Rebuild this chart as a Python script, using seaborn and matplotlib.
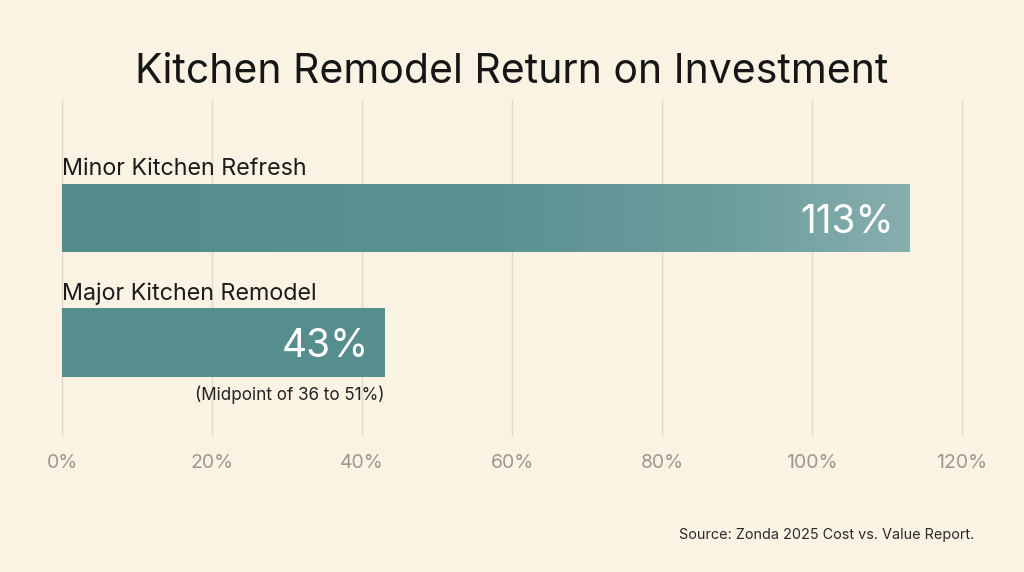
import numpy as np
import matplotlib
matplotlib.use("Agg")
import matplotlib.pyplot as plt
from matplotlib.colors import LinearSegmentedColormap
import seaborn as sns

# DATA
categories = ["Minor Kitchen Refresh", "Major Kitchen Remodel"]
roi_values = [113, 43]
value_labels = ["113%", "43%"]
x_ticks = [0, 20, 40, 60, 80, 100, 120]
x_tick_labels = ["0%", "20%", "40%", "60%", "80%", "100%", "120%"]
note_text = "(Midpoint of 36 to 51%)"
title_text = "Kitchen Remodel Return on Investment"
source_text = "Source: Zonda 2025 Cost vs. Value Report."

BG = "#FAF3E4"
TEAL = "#568D8D"

sns.set_theme(style="white")
plt.rcParams["font.family"] = ["Inter", "DejaVu Sans"]

fig = plt.figure(figsize=(10.24, 5.72), dpi=100, facecolor=BG)
ax = fig.add_axes([62 / 1024, 1 - 435 / 572, 900 / 1024, 335 / 572])
ax.set_facecolor(BG)

sns.barplot(x=roi_values, y=categories, orient="h", color=TEAL,
            saturation=1, width=0.55, linewidth=0, ax=ax, zorder=2)

# gridlines (not clipped so the 120% line at the edge shows fully)
for t in x_ticks:
    ax.axvline(t, color="#E0D9CD", lw=1.0, zorder=0, clip_on=False)

ax.set_xticks(x_ticks)
ax.set_xticklabels(x_tick_labels, color="#9E998F", fontsize=14)
ax.tick_params(axis="x", length=0, pad=14)
ax.set_yticks([])
ax.set_xlabel("")
ax.set_ylabel("")
for s in ax.spines.values():
    s.set_visible(False)

# soft gradient on the first bar
cmap = LinearSegmentedColormap.from_list(
    "tealgrad", [(0, "#558B8B"), (0.5, "#5A9191"), (0.8, "#6E9E9E"), (1, "#88AEAE")])
p0 = ax.patches[0]
x0, y0 = p0.get_x(), p0.get_y()
w0, h0 = p0.get_width(), p0.get_height()
grad = np.linspace(0, 1, 256).reshape(1, -1)
im = ax.imshow(grad, cmap=cmap, aspect="auto", interpolation="bilinear",
               extent=[x0, x0 + w0, y0 + h0, y0], zorder=2.5)
im.set_clip_path(p0)
ax.set_xlim(0, 120)
ax.set_ylim(1.743, -0.948)

for i, p in enumerate(ax.patches[:len(categories)]):
    top = p.get_y()
    mid = p.get_y() + p.get_height() / 2
    ax.annotate(categories[i], (0, top), xytext=(0, 6), textcoords="offset points",
                ha="left", va="baseline", fontsize=16.8, color="#1C1C1C")
    ax.annotate(value_labels[i], (p.get_width(), mid), xytext=(-11, 0),
                textcoords="offset points", ha="right", va="center_baseline",
                fontsize=28, color="white", zorder=3)

p1 = ax.patches[1]
ax.annotate(note_text, (p1.get_width(), p1.get_y() + p1.get_height()),
            xytext=(0, -6), textcoords="offset points", ha="right", va="top",
            fontsize=12.3, color="#222222")

fig.text(0.5, 1 - 72 / 572, title_text, ha="center", va="center",
         fontsize=29.5, color="#161616")
fig.text(974 / 1024, 1 - 535 / 572, source_text, ha="right", va="center",
         fontsize=10.4, color="#2A2A2A")

fig.savefig("out.png", dpi=100, facecolor=BG)
